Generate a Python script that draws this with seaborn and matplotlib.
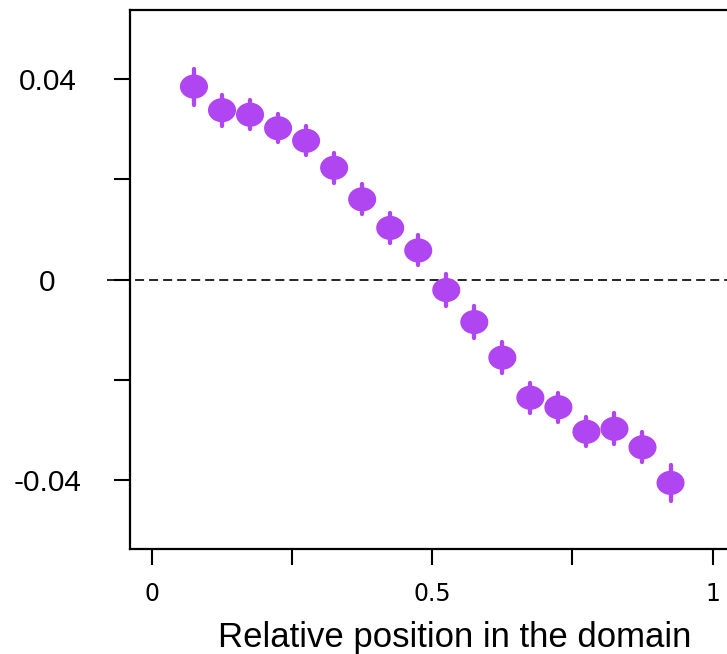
import numpy as np
import pandas as pd
import matplotlib
matplotlib.use("Agg")
import matplotlib.pyplot as plt
from matplotlib.path import Path
import seaborn as sns

# ---- data ----
positions = [0.075, 0.125, 0.175, 0.225, 0.275, 0.325, 0.375, 0.425, 0.475,
             0.525, 0.575, 0.625, 0.675, 0.725, 0.775, 0.825, 0.875, 0.925]
values = [0.0385, 0.0338, 0.0329, 0.0302, 0.0277, 0.0223, 0.0160, 0.0103, 0.0058,
          -0.0021, -0.0085, -0.0156, -0.0236, -0.0255, -0.0304, -0.0298, -0.0335, -0.0406]
errors = [0.0036, 0.0031, 0.0029, 0.0028, 0.0029, 0.0030, 0.0030, 0.0030, 0.0030,
          0.0031, 0.0032, 0.0031, 0.0030, 0.0029, 0.0029, 0.0031, 0.0030, 0.0036]
xticks = [0, 0.25, 0.5, 0.75, 1]
xticklabels = ["0", "", "0.5", "", "1"]
yticks = [-0.04, -0.02, 0, 0.02, 0.04]
yticklabels = ["-0.04", "", "0", "", "0.04"]
xlabel = "Relative position in the domain"

df = pd.DataFrame({"pos": positions, "val": values, "err": errors})

sns.set_style("ticks")
plt.rcParams["font.family"] = ["Liberation Sans", "DejaVu Sans"]
plt.rcParams["lines.scale_dashes"] = False
plt.rcParams["text.color"] = "black"
plt.rcParams["xtick.color"] = "black"
plt.rcParams["ytick.color"] = "black"
plt.rcParams["axes.labelcolor"] = "black"

W, H = 727, 654
fig = plt.figure(figsize=(W / 100, H / 100), dpi=100)
left_px, right_px, top_px, bottom_px = 129.5, 735.0, 9.5, 549.0
ax = fig.add_axes([left_px / W, 1 - bottom_px / H,
                   (right_px - left_px) / W, (bottom_px - top_px) / H])

color = "#B045F2"

# elliptical marker (wider than tall)
t = np.linspace(0, 2 * np.pi, 64)
verts = np.column_stack([np.cos(t), 0.86 * np.sin(t)])
ellipse = Path(verts, closed=True)

ax.vlines(df["pos"], df["val"] - df["err"], df["val"] + df["err"],
          color=color, linewidth=3.1, capstyle="round", zorder=2)
sns.scatterplot(data=df, x="pos", y="val", ax=ax, marker=ellipse, s=20.2 ** 2,
                color=color, edgecolor="none", linewidth=0, zorder=3, legend=False)

ax.axhline(0, xmin=-0.037, xmax=1, color="black", linewidth=1.2,
           linestyle=(0, (6.5, 3.6)), clip_on=False, zorder=1)

ax.set_xlim(-0.04, 1.04)
ax.set_ylim(-0.0538, 0.0539)

ax.set_xticks(xticks)
ax.set_xticklabels(xticklabels, fontsize=17, family=["DejaVu Sans"])
ax.set_yticks(yticks)
ax.set_yticklabels(yticklabels, fontsize=21.5)
for lab in ax.get_yticklabels():
    lab.set_horizontalalignment("center")

ax.tick_params(axis="x", length=11.5, width=1.5, color="black", pad=12.5)
ax.tick_params(axis="y", length=11.5, width=1.5, color="black", pad=47.5)

for side in ["left", "top", "bottom", "right"]:
    ax.spines[side].set_linewidth(1.6)
    ax.spines[side].set_color("black")

ax.set_xlabel(xlabel, fontsize=25)
ax.xaxis.set_label_coords((455 - left_px) / (right_px - left_px),
                          (bottom_px - 638) / (bottom_px - top_px))
ax.xaxis.label.set_verticalalignment("center")
ax.set_ylabel("")

fig.savefig("out.png", dpi=100)
